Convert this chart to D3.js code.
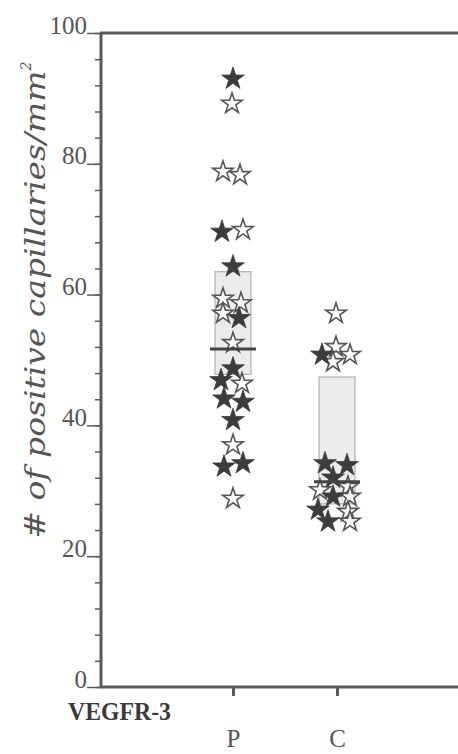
<!DOCTYPE html>
<html>
<head>
<meta charset="utf-8">
<script src="https://cdn.jsdelivr.net/npm/d3@7"></script>
<style>
  body { margin: 0; background: #fff; }
  svg { display: block; }
  .ax text { font-family: "Liberation Serif", "DejaVu Serif", serif; fill: #555; }
</style>
</head>
<body>
<div id="chart"></div>
<script>
// groups on the x axis
let groups = ["P", "C"];
// major / minor y ticks
let majorTicks = [0, 20, 40, 60, 80, 100];
let minorTicks = d3.range(0, 101, 4);

// P group: value, filled (1) or hollow (0), horizontal jitter lane
let pValues = [93, 89.2, 78.8, 78.3, 69.6, 69.9, 64.3, 59.4, 58.7, 57.1, 56.4, 52.6, 48.7, 46.9, 46.4, 44.1, 43.6, 40.8, 37.0, 33.7, 34.2, 28.8];
let pFilled = [1, 0, 0, 0, 1, 0, 1, 0, 0, 0, 1, 0, 1, 1, 0, 1, 1, 1, 0, 1, 1, 0];
let pLane   = [0, -0.1, -1.0, 0.7, -1.1, 1.0, 0, -1.0, 0.8, -1.0, 0.6, 0, 0, -1.2, 0.9, -0.9, 1.0, 0, 0, -0.9, 1.0, 0];

// C group
let cValues = [57.1, 52.0, 50.8, 50.8, 49.7, 34.2, 33.9, 32.0, 30.6, 30.1, 29.1, 29.1, 27.1, 26.8, 25.3, 25.3];
let cFilled = [0, 0, 1, 0, 0, 1, 1, 1, 0, 0, 1, 0, 1, 0, 1, 0];
let cLane   = [-0.1, -0.1, -1.5, 1.3, -0.4, -1.2, 1.0, -0.4, 1.1, -1.7, -0.4, 1.3, -1.9, 1.1, -0.9, 1.3];

// box (low, high) and median per group
let boxLow = [47.8, 28];
let boxHigh = [63.5, 47.4];
let medians = [51.7, 31.4];

let width = 458, height = 754;

let svg = d3.select("#chart").append("svg")
  .attr("width", width)
  .attr("height", height);

let y = d3.scaleLinear().domain([0, 100]).range([687, 33]);
let x = d3.scalePoint().domain(groups).range([233, 337]);
let laneW = 10;

let axisColor = "#5a5a5a";

// boxes
svg.selectAll(".box")
  .data(groups).enter()
  .append("rect")
  .attr("x", d => x(d) - 18)
  .attr("width", 36)
  .attr("y", (d, i) => y(boxHigh[i]))
  .attr("height", (d, i) => y(boxLow[i]) - y(boxHigh[i]))
  .attr("fill", "#ebebeb")
  .attr("stroke", "#b0b0b0")
  .attr("stroke-width", 1.2);

// build star rows
let stars = [];
pValues.forEach((v, i) => stars.push({g: "P", v: v, f: pFilled[i], lane: pLane[i]}));
cValues.forEach((v, i) => stars.push({g: "C", v: v, f: cFilled[i], lane: cLane[i]}));
stars.sort((a, b) => a.f - b.f);

let starPath = d3.symbol().type(d3.symbolStar);

svg.selectAll(".star")
  .data(stars).enter()
  .append("path")
  .attr("d", d => starPath.size(d.f ? 160 : 130)())
  .attr("transform", d => "translate(" + (x(d.g) + d.lane * laneW) + "," + y(d.v) + ")")
  .attr("fill", d => d.f ? "#3c3c3c" : "#fff")
  .attr("fill-opacity", d => d.f ? 1 : 0.85)
  .attr("stroke", d => d.f ? "#3c3c3c" : "#555")
  .attr("stroke-width", d => d.f ? 0.8 : 1.6)
  .attr("stroke-linejoin", "miter");

// median lines
svg.selectAll(".median")
  .data(groups).enter()
  .append("line")
  .attr("x1", d => x(d) - 23)
  .attr("x2", d => x(d) + 23)
  .attr("y1", (d, i) => y(medians[i]))
  .attr("y2", (d, i) => y(medians[i]))
  .attr("stroke", "#444")
  .attr("stroke-width", 3);

// minor y ticks
let minorAxis = svg.append("g")
  .attr("class", "ax")
  .attr("transform", "translate(101,0)")
  .call(d3.axisLeft(y).tickValues(minorTicks).tickSize(6).tickFormat(""));
minorAxis.select(".domain").remove();
minorAxis.selectAll("line").attr("stroke", axisColor).attr("stroke-width", 1.5);

// major y ticks
let yAxis = svg.append("g")
  .attr("class", "ax")
  .attr("transform", "translate(101,0)")
  .call(d3.axisLeft(y).tickValues(majorTicks).tickSize(14).tickPadding(0));
yAxis.select(".domain").remove();
yAxis.selectAll("line").attr("stroke", axisColor).attr("stroke-width", 1.5);
yAxis.selectAll("text")
  .attr("x", -14)
  .attr("dy", "0")
  .attr("y", 0)
  .style("font-size", "25px");

// frame lines
svg.append("line")
  .attr("x1", 101).attr("x2", 101)
  .attr("y1", y(100)).attr("y2", y(0))
  .attr("stroke", axisColor).attr("stroke-width", 3);
svg.append("line")
  .attr("x1", 100).attr("x2", width)
  .attr("y1", y(100)).attr("y2", y(100))
  .attr("stroke", axisColor).attr("stroke-width", 3);
svg.append("line")
  .attr("x1", 100).attr("x2", width)
  .attr("y1", y(0)).attr("y2", y(0))
  .attr("stroke", axisColor).attr("stroke-width", 3);

// x axis ticks and labels
let xAxis = svg.append("g")
  .attr("class", "ax")
  .attr("transform", "translate(0," + y(0) + ")")
  .call(d3.axisBottom(x).tickSize(9).tickPadding(0));
xAxis.select(".domain").remove();
xAxis.selectAll("line").attr("stroke", axisColor).attr("stroke-width", 3);
xAxis.selectAll("text")
  .attr("y", 60)
  .attr("dy", "0")
  .style("font-size", "25px");

svg.append("text")
  .attr("x", 68)
  .attr("y", 720)
  .attr("textLength", 103)
  .attr("lengthAdjust", "spacingAndGlyphs")
  .style("font-family", "Liberation Serif, serif")
  .style("font-weight", "bold")
  .style("font-size", "26px")
  .style("fill", "#3a3a3a")
  .text("VEGFR-3");

// y axis title
let title = svg.append("text")
  .attr("transform", "translate(45,300) rotate(-90)")
  .attr("text-anchor", "middle")
  .style("font-family", "DejaVu Serif, serif")
  .style("font-style", "italic")
  .style("font-size", "27px")
  .style("fill", "#555");
title.append("tspan").attr("textLength", 468).attr("lengthAdjust", "spacingAndGlyphs").text("# of positive capillaries/mm");
title.append("tspan").attr("dy", -14).style("font-size", "14px").text("2");
</script>
</body>
</html>
